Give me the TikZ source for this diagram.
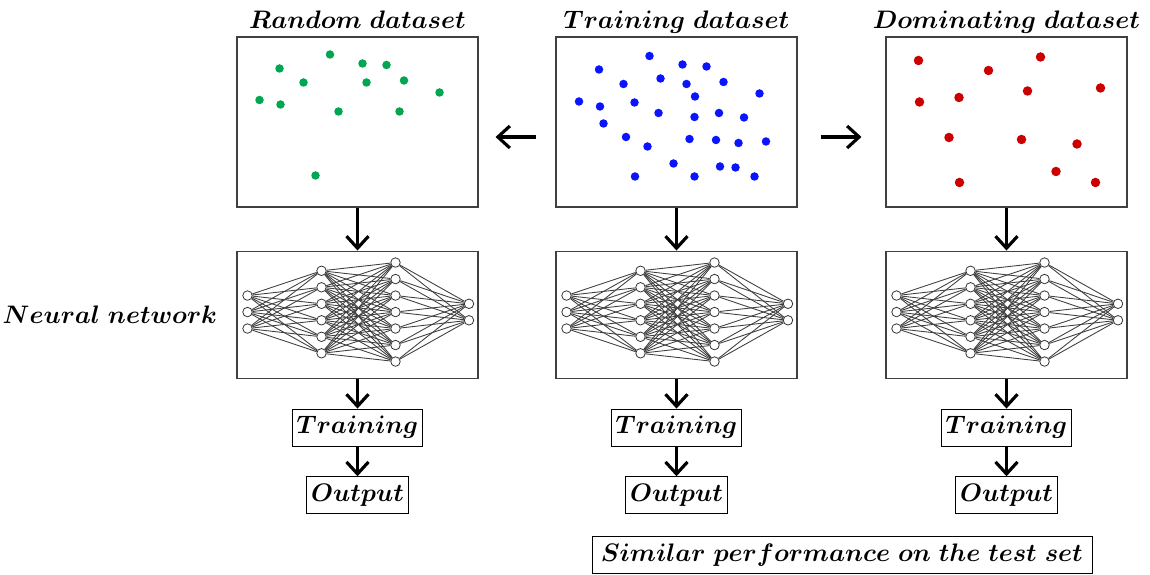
\documentclass[tikz,border=0pt]{standalone}
\usetikzlibrary{positioning,arrows.meta,calc,backgrounds}
\definecolor{dotgreen}{RGB}{0,166,81}
\definecolor{dotblue}{RGB}{10,20,255}
\definecolor{dotred}{RGB}{204,0,0}
\definecolor{edgegrey}{gray}{0.25}
\tikzset{
  fig/.style={font=\fontsize{14}{17}\selectfont\boldmath},
  databox/.style={draw=black!75,line width=0.6pt,minimum width=48.2mm,minimum height=34mm},
  netbox/.style={databox,minimum height=25.4mm},
  tbox/.style={draw,thin,inner xsep=2.5pt,inner ysep=2pt,minimum height=7.4mm},
  neuron/.style={circle,draw=black!80,fill=white,line width=0.45pt,minimum size=1.9mm,inner sep=0pt},
  syn/.style={edgegrey,line width=0.5pt},
  ln/.style={-{Straight Barb[length=2.4mm,width=4.4mm]},line width=1.8pt},
  ttl/.style={anchor=base,inner sep=0pt},
}

% feed-forward net: #1 name, #2 centre node
\newcommand{\drawnet}[2]{%
  \foreach \l/\x/\k in {1/-2.2/3,2/-0.72/6,3/0.76/7,4/2.23/2}
    \foreach \i in {1,...,\k}
      \node[neuron] (#1-\l-\i) at ($(#2)+(\x,{0.05+0.33*((\k+1)/2-\i)})$) {};
  \begin{scope}[on background layer]
    \foreach \l/\m/\a/\b in {1/2/3/6,2/3/6/7,3/4/7/2}
      \foreach \i in {1,...,\a}
        \foreach \j in {1,...,\b}
          \draw[syn] (#1-\l-\i) -- (#1-\m-\j);
  \end{scope}
}

\begin{document}
\begin{tikzpicture}[fig]
\useasboundingbox (0,0) rectangle (23,-11.5);

% data sets
\node[databox] (rand) at (7.15,-2.44) {};
\node[databox] (train) at (13.53,-2.44) {};
\node[databox] (dom) at (20.13,-2.44) {};

\node[ttl] (randttl) at ([yshift=1.6mm]rand.north) {$Random\ dataset$};
\node[ttl] (trainttl) at ([yshift=1.6mm]train.north) {$Training\ dataset$};
\node[ttl] (domttl) at ([yshift=1.6mm]dom.north) {$Dominating\ dataset$};

\foreach \p in {(5.59,-1.37),(6.60,-1.09),(7.25,-1.27),(7.73,-1.30),(6.07,-1.65),
                (7.33,-1.65),(8.08,-1.61),(8.79,-1.85),(5.19,-2.00),(5.61,-2.09),
                (6.77,-2.23),(7.99,-2.23),(6.31,-3.51)}
  \fill[dotgreen] \p circle (0.085);
\foreach \p in {(12.99,-1.12),(11.98,-1.39),(13.65,-1.29),(14.13,-1.33),(12.47,-1.68),
                (13.21,-1.57),(13.73,-1.68),(14.47,-1.64),(13.90,-1.93),(15.19,-1.87),
                (11.58,-2.03),(12.00,-2.13),(12.69,-2.05),(13.17,-2.26),(13.89,-2.34),
                (14.38,-2.26),(14.88,-2.35),(12.07,-2.47),(12.52,-2.74),(12.95,-2.93),
                (13.79,-2.78),(14.32,-2.80),(14.77,-2.86),(15.32,-2.83),(13.47,-3.27),
                (14.40,-3.33),(14.71,-3.35),(12.70,-3.53),(13.89,-3.53),(15.09,-3.53)}
  \fill[dotblue] \p circle (0.085);
\foreach \p in {(18.37,-1.21),(20.81,-1.14),(19.77,-1.41),(20.55,-1.82),(22.01,-1.76),
                (18.39,-2.04),(19.18,-1.95),(18.98,-2.75),(20.43,-2.79),(21.54,-2.88),
                (21.12,-3.43),(19.19,-3.65),(21.91,-3.65)}
  \fill[dotred] \p circle (0.095);

\draw[ln,shorten <=3.8mm,shorten >=3.4mm] ([yshift=-3mm]train.west) -- ([yshift=-3mm]rand.east);
\draw[ln,shorten <=4.6mm,shorten >=4.8mm] ([yshift=-3mm]train.east) -- ([yshift=-3mm]dom.west);

% networks, training and output per column
\foreach \c/\d in {r/rand,t/train,d/dom} {
  \node[netbox,below=8.6mm of \d] (\c net) {};
  \node[tbox,below=6mm of \c net] (\c train) {$Training$};
  \node[tbox,below=6mm of \c train] (\c out) {$Output$};
  \drawnet{\c nn}{\c net}
  \draw[ln] (\d) -- (\c net);
  \draw[ln] (\c net) -- (\c train);
  \draw[ln] (\c train) -- (\c out);
}

\node[left=3.8mm of rnet,inner sep=0pt] (nnlbl) {$Neural\ network$};

\node[tbox,minimum width=10cm] (perf) at (16.84,-11.1) {$Similar\ performance\ on\ the\ test\ set$};

\end{tikzpicture}
\end{document}
